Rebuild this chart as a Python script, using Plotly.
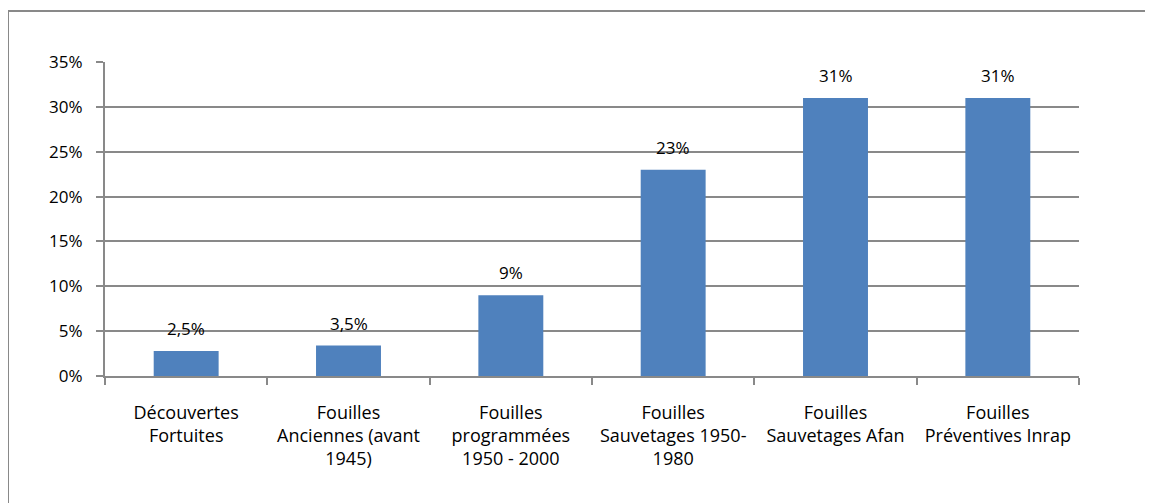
import plotly.graph_objects as go

categories = [
    "Découvertes<br>Fortuites",
    "Fouilles<br>Anciennes (avant<br>1945)",
    "Fouilles<br>programmées<br>1950 - 2000",
    "Fouilles<br>Sauvetages 1950-<br>1980",
    "Fouilles<br>Sauvetages Afan",
    "Fouilles<br>Préventives Inrap",
]
values = [2.8, 3.4, 9, 23, 31, 31]
labels = ["2,5%", "3,5%", "9%", "23%", "31%", "31%"]
y_ticks = [0, 5, 10, 15, 20, 25, 30, 35]
y_ticklabels = ["0%", "5%", "10%", "15%", "20%", "25%", "30%", "35%"]

FONT = "Open Sans"
FS = 17
XFS = 18
GRAY = "#898989"

# page body has an 8px margin, so the figure is offset by 8px
OFF = 8
L, T, R, B = 105 - OFF, 62 - OFF, 74, 127
W, H = 1153 - OFF, 503 - OFF
PW, PH = W - L - R, H - T - B

fig = go.Figure()
fig.add_trace(go.Bar(
    x=categories, y=values,
    marker=dict(color="#4F81BD", line=dict(width=0)),
    width=0.4,
))
for c, v, t in zip(categories, values, labels):
    fig.add_annotation(x=c, y=v, text=t, showarrow=False, yanchor="bottom",
                       yshift=9, font=dict(family=FONT, size=FS, color="#000"))

fig.add_shape(type="rect", xref="paper", yref="paper",
              x0=(8 - 105) / PW, x1=(1170 - 105) / PW,
              y0=(376 - 520) / PH, y1=(376 - 11) / PH,
              line=dict(color=GRAY, width=2), fillcolor="rgba(0,0,0,0)", layer="below")

fig.update_layout(
    width=W, height=H,
    margin=dict(l=L, r=R, t=T, b=B, pad=0),
    paper_bgcolor="white", plot_bgcolor="white",
    showlegend=False,
    font=dict(family=FONT, size=FS, color="#000"),
    xaxis=dict(
        type="category", tickson="boundaries", ticks="outside", ticklen=7,
        tickwidth=2, tickcolor=GRAY, showline=True, linecolor=GRAY, linewidth=2,
        showgrid=False, tickfont=dict(family=FONT, size=XFS, color="#000"),
        ticklabelstandoff=19,
    ),
    yaxis=dict(
        range=[0, 35], tickvals=y_ticks, ticktext=y_ticklabels,
        ticks="outside", ticklen=7, tickwidth=2, tickcolor=GRAY,
        showline=True, linecolor=GRAY, linewidth=2,
        showgrid=True, gridcolor=GRAY, gridwidth=2, zeroline=False,
        tickfont=dict(family=FONT, size=FS, color="#000"),
        ticklabelstandoff=10,
    ),
)

fig.write_html("out.html")
